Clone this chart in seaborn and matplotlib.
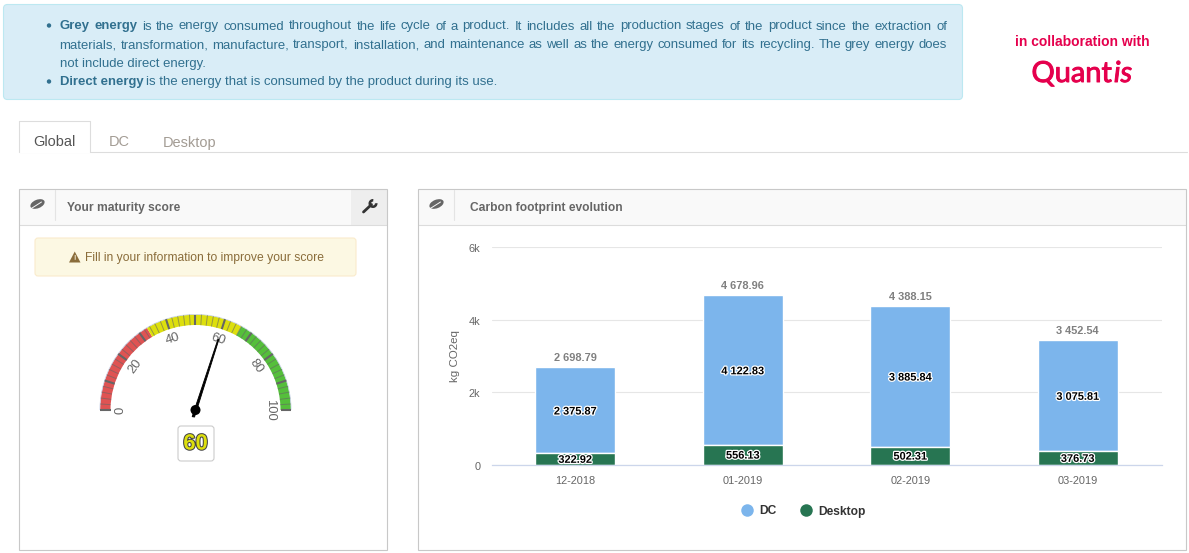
import matplotlib
matplotlib.use("Agg")
import matplotlib.pyplot as plt
import matplotlib.patheffects as pe
from matplotlib.lines import Line2D
from matplotlib.patches import Rectangle, FancyBboxPatch, Wedge, Circle, Ellipse, Polygon
from matplotlib.transforms import ScaledTranslation
import numpy as np
import pandas as pd
import seaborn as sns

months = ["12-2018", "01-2019", "02-2019", "03-2019"]
dc_values = [2375.87, 4122.83, 3885.84, 3075.81]
desktop_values = [322.92, 556.13, 502.31, 376.73]
total_values = [2698.79, 4678.96, 4388.15, 3452.54]
y_ticks = [0, 2000, 4000, 6000]
y_tick_labels = ["0", "2k", "4k", "6k"]
score = 60
gauge_bands = [(0, 33, "#DF5353"), (33, 66, "#DDDF0D"), (66, 100, "#55BF3B")]
gauge_labels = [0, 20, 40, 60, 80, 100]

sns.set_theme(style="white")
plt.rcParams["font.family"] = ["Liberation Sans", "DejaVu Sans"]
W, H = 1189, 553
PX = 0.72
fig = plt.figure(figsize=(W / 100, H / 100), dpi=100, facecolor="white")

# page layer in pixel coordinates
bg = fig.add_axes([0, 0, 1, 1], zorder=0)
bg.set_xlim(0.5, W + 0.5); bg.set_ylim(H + 0.5, 0.5); bg.axis("off")

def box(x0, y0, x1, y1, fc, ec, r=3, lw=0.8, z=1):
    bg.add_patch(FancyBboxPatch((x0 + r, y0 + r), x1 - x0 - 2 * r, y1 - y0 - 2 * r,
                                boxstyle=f"round,pad={r},rounding_size={r}",
                                fc=fc, ec=ec, lw=lw, zorder=z))

def rect(x0, y0, x1, y1, fc, ec="none", lw=0.8, z=1):
    bg.add_patch(Rectangle((x0, y0), x1 - x0, y1 - y0, fc=fc, ec=ec, lw=lw, zorder=z))

def text_width(s, **kw):
    t = bg.text(0, 0, s, **kw)
    w = t.get_window_extent(fig.canvas.get_renderer()).width
    t.remove()
    return w

def justified(segments, x0, x1, y, size, color):
    """Lay out (text, weight) words evenly from x0 to x1."""
    words = [(w, wt) for s, wt in segments for w in s.split()]
    widths = [text_width(w, fontsize=size, fontweight=wt) for w, wt in words]
    gap = (x1 - x0 - sum(widths)) / (len(words) - 1)
    x = x0
    for (w, wt), wd in zip(words, widths):
        bg.text(x, y, w, fontsize=size, fontweight=wt, color=color, va="baseline", ha="left", zorder=3)
        x += wd + gap

# info banner
BLUE = "#31708f"
FS = 13.1 * PX
box(4, 5, 963, 100, "#d9edf7", "#bce8f1", r=4)
bg.add_patch(Circle((49.5, 26), 2.2, fc=BLUE, ec="none", zorder=3))
bg.add_patch(Circle((49.5, 82), 2.2, fc=BLUE, ec="none", zorder=3))
justified([("Grey energy", "bold"),
           ("is the energy consumed throughout the life cycle of a product. It includes all the production stages of the product since the extraction of", "normal")],
          60, 947.5, 30, FS, BLUE)
justified([("materials, transformation, manufacture, transport, installation, and maintenance as well as the energy consumed for its recycling. The grey energy does", "normal")],
          60, 947.5, 48.5, FS, BLUE)
bg.text(60, 67, "not include direct energy.", fontsize=FS, color=BLUE, va="baseline", zorder=3)
bg.text(60, 86, "Direct energy", fontsize=FS, fontweight="bold", color=BLUE, va="baseline", zorder=3)
bg.text(147, 86, "is the energy that is consumed by the product during its use.", fontsize=FS, color=BLUE, va="baseline", zorder=3)

# collaboration block
PINK = "#e5004d"
bg.text(1082.5, 42, "in collaboration with", fontsize=13.9 * PX, fontweight="bold", color=PINK, ha="center", va="center")
Q_FS = 29 * PX
q_stroke = [pe.withStroke(linewidth=0.7, foreground=PINK)]
bg.text(1032, 74.5, "Quant", fontsize=Q_FS, color=PINK, family="Lato", ha="left", va="center", path_effects=q_stroke)
q_w = text_width("Quant", fontsize=Q_FS, family="Lato")
bg.text(1032 + q_w + 2, 74.5, "is", fontsize=Q_FS, color=PINK, family="Lato", style="italic", ha="left", va="center", path_effects=q_stroke)

# tabs
bg.plot([19, 1187], [152.5, 152.5], color="#dddddd", lw=0.8, zorder=1)
rect(19.5, 121.5, 90.5, 153, "white", z=2)
bg.plot([19.5, 19.5, 90.5, 90.5], [152.5, 121.5, 121.5, 152.5], color="#dddddd", lw=0.8, zorder=3)
bg.text(55, 143, "Global", fontsize=14.5 * PX, color="#555555", ha="center", va="center", zorder=3)
bg.text(119.5, 143, "DC", fontsize=14.5 * PX, color="#a39c94", ha="center", va="center")
bg.text(190, 143, "Desktop", fontsize=14.5 * PX, color="#a39c94", ha="center", va="center")

# panels
def leaf(cx, cy):
    bg.add_patch(Ellipse((cx, cy), 15, 8.5, angle=-22, fc="#666666", ec="none", zorder=4))
    bg.plot([cx - 7, cx + 4], [cy + 5, cy - 2], color="#f9f9f9", lw=0.7, zorder=5)

for x0, x1, title, tx in [(19.5, 387.5, "Your maturity score", 67.5),
                          (418.5, 1186.5, "Carbon footprint evolution", 470.5)]:
    rect(x0, 189.5, x1, 550.5, "white", z=1)
    rect(x0, 189.5, x1, 225, "#f9f9f9", z=2)
    rect(x0, 189.5, x1, 550.5, "none", "#c8c8c8", z=3.5)
    bg.plot([x0, x1], [225.5, 225.5], color="#dcdcdc", lw=0.8, zorder=3)
    bg.plot([x0 + 36, x0 + 36], [190, 220], color="#e4e4e4", lw=0.8, zorder=3)
    leaf(x0 + 18.5, 204.5)
    bg.text(tx, 208, title, fontsize=12 * PX, fontweight="bold", color="#666666", va="center", zorder=4)

# wrench button
rect(351, 190, 387, 225, "#eeeeee", z=2.5)
bg.plot([364, 372], [212.5, 205], color="#333333", lw=2, solid_capstyle="round", zorder=4)
bg.add_patch(Wedge((373.5, 204), 4.5, 355, 275, width=2.6, fc="#333333", ec="none", zorder=4))

# alert
box(35.5, 238.5, 356.5, 276.5, "#fcf8e3", "#faebcc", r=3)
bg.add_patch(Polygon([[69.5, 263], [81, 263], [75.25, 252]], closed=True, fc="#8a6d3b", ec="none", zorder=3))
bg.text(75.25, 259.5, "!", fontsize=7 * PX, fontweight="bold", color="#fcf8e3", ha="center", va="center", zorder=4)
bg.text(85.5, 258.7, "Fill in your information to improve your score", fontsize=12.1 * PX, color="#8a6d3b", va="center", zorder=3)

# gauge
GX, GY, R_OUT, R_IN = 196, 410.5, 95.5, 85
def gauge_theta(v):
    return 180 + v * 1.8
def gauge_xy(v, r):
    a = np.deg2rad(gauge_theta(v))
    return GX + r * np.cos(a), GY + r * np.sin(a)

for lo, hi, col in gauge_bands:
    bg.add_patch(Wedge((GX, GY), R_OUT, gauge_theta(lo), gauge_theta(hi), width=R_OUT - R_IN, fc=col, ec="none", zorder=2))
bg.add_patch(Wedge((GX, GY), R_OUT + 0.5, 180, 360, width=0.8, fc="#ccd6eb", ec="none", zorder=2))
for v in range(0, 101, 2):
    major = v % 10 == 0
    xa, ya = gauge_xy(v, R_IN)
    xb, yb = gauge_xy(v, R_OUT)
    bg.plot([xa, xb], [ya, yb], color="#666666",
            lw=1.5 if major else 0.7, alpha=1 if major else 0.6, solid_capstyle="butt", zorder=3)
for v in gauge_labels:
    lx, ly = gauge_xy(v, 74.5)
    bg.text(lx, ly, str(v), fontsize=13 * PX, color="#666666", ha="center", va="center",
            rotation=90 - v * 1.8, zorder=3)
tipx, tipy = gauge_xy(score, 74)
tailx, taily = gauge_xy(score, -7)
bg.add_patch(Polygon([[tailx - 1.2, taily], [tailx + 1.2, taily + 0.4], [tipx + 0.5, tipy], [tipx - 0.5, tipy - 0.2]],
                     closed=True, fc="black", ec="black", lw=0.6, zorder=4))
bg.add_patch(Circle((GX, GY), 5, fc="black", ec="none", zorder=4))
box(178.5, 426.5, 214.5, 461.5, "white", "#cccccc", r=3)
bg.text(196, 444.5, str(score), fontsize=22 * PX, fontweight="bold", color="#DDDF0D", ha="center", va="center", zorder=4,
        path_effects=[pe.withStroke(linewidth=1.5, foreground="#444444")])

# bar chart
L, R, T, B = 491.5, 1161.5, 247, 465
ax = fig.add_axes([L / W, 1 - B / H, (R - L) / W, (B - T) / H], zorder=2)
ax.patch.set_alpha(0)
df = pd.DataFrame({"month": months, "DC": dc_values, "Desktop": desktop_values, "Total": total_values})
DC_COL, DT_COL = "#7cb5ec", "#277552"
BAR_W = 80 / ((R - L) / 4)
sns.barplot(data=df, x="month", y="DC", bottom=df["Desktop"], color=DC_COL, saturation=1, width=BAR_W,
            edgecolor="white", linewidth=1, ax=ax, zorder=2)
sns.barplot(data=df, x="month", y="Desktop", color=DT_COL, saturation=1, width=BAR_W,
            edgecolor="white", linewidth=1, ax=ax, zorder=2)
ax.set_xlim(-0.5, 3.5)
ax.set_ylim(0, 6000)
ax.set_yticks(y_ticks, y_tick_labels)
ax.set_xlabel("")
ax.set_ylabel("kg CO2eq", fontsize=11.5 * PX, color="#666666")
ax.yaxis.set_label_coords(-31 / (R - L), 0.5)
ax.tick_params(axis="x", length=0, labelsize=11 * PX, labelcolor="#666666", pad=8)
ax.tick_params(axis="y", length=0, labelsize=11 * PX, labelcolor="#666666", pad=8)
down_1px = ScaledTranslation(0, -1 / 100, fig.dpi_scale_trans)
for lab in ax.get_yticklabels():
    lab.set_transform(lab.get_transform() + down_1px)
ax.grid(axis="y", color="#e6e6e6", lw=0.8, zorder=0)
ax.set_axisbelow(True)
sns.despine(ax=ax, left=True, top=True, right=True)
ax.spines["bottom"].set_color("#ccd6eb")
ax.spines["bottom"].set_linewidth(0.9)

def fmt(v):
    return f"{v:,.2f}".replace(",", " ")

stroke = [pe.withStroke(linewidth=1.8, foreground="white")]
for i, (dc, dt, tot) in enumerate(zip(dc_values, desktop_values, total_values)):
    ax.annotate(fmt(tot), (i, tot), xytext=(0, 2.8), textcoords="offset points", ha="center", va="bottom",
                fontsize=11 * PX, fontweight="bold", color="#808080", zorder=5)
    ax.annotate(fmt(dc), (i, dt + dc / 2), xytext=(0, -1), textcoords="offset points", ha="center", va="center",
                fontsize=11 * PX, fontweight="bold", color="black", path_effects=stroke, zorder=5)
    ax.annotate(fmt(dt), (i, dt / 2), xytext=(0, -0.5), textcoords="offset points", ha="center", va="center",
                fontsize=11 * PX, fontweight="bold", color="black", path_effects=stroke, zorder=5)

handles = [Line2D([], [], ls="", marker="o", ms=9, mfc=DC_COL, mec="none", label="DC"),
           Line2D([], [], ls="", marker="o", ms=9, mfc=DT_COL, mec="none", label="Desktop")]
leg = ax.legend(handles=handles, ncols=2, frameon=False, loc="center",
                bbox_to_anchor=(((800.5 - L) / (R - L)), (B - 511.5) / (B - T)),
                prop={"size": 12 * PX, "weight": "bold"}, labelcolor="#333333",
                handletextpad=0.03, columnspacing=1.43, borderpad=0)

fig.savefig("out.png", dpi=100)
